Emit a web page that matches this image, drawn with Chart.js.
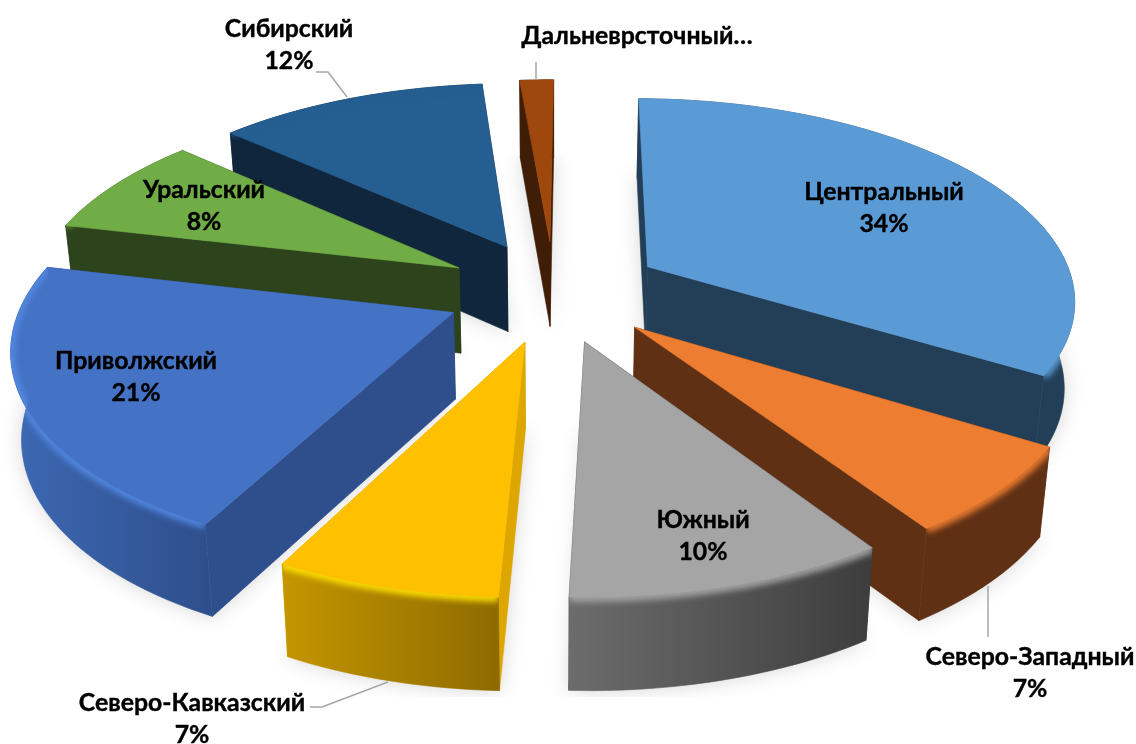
<!DOCTYPE html>
<html>
<head>
<meta charset="utf-8">
<style>
html, body { margin: 0; padding: 0; background: #fff; }
#box { position: relative; width: 1136px; height: 744px; }
</style>
<script src="https://cdn.jsdelivr.net/npm/chart.js@4/dist/chart.umd.js"></script>
</head>
<body>
<div id="box"><canvas id="chart"></canvas></div>
<script>
// data
const categories = ["Центральный", "Северо-Западный", "Южный", "Северо-Кавказский", "Приволжский", "Уральский", "Сибирский", "Дальневрсточный…"];
const values = [33.6, 6.9, 10, 7, 21, 8, 12, 1.5];

// colours for each slice
const topColors = ["#5B9BD5", "#ED7D31", "#A5A5A5", "#FFC000", "#4472C4", "#70AD47", "#255E91", "#9E480E"];
const rimColors = ["#5B9BD5", "#ED7D31", "#A5A5A5", "#FFE000", "#5288E2", "#70AD47", "#255E91", "#9E480E"];
const cutColors = ["#233F57", "#5F3014", "#3D3D3D", "#DDA600", "#2F4F8C", "#2C431B", "#0F263D", "#3F1D06"];
const wallLeft = ["#233F57", "#5F3014", "#6C6C6C", "#C49600", "#3D69B4", "#2C431B", "#0F263D", "#3F1D06"];
const wallRight = ["#233F57", "#5F3014", "#3D3D3D", "#8E6B00", "#2F4F8C", "#2C431B", "#0F263D", "#3F1D06"];

// back to front
const drawOrder = [7, 6, 5, 4, 0, 1, 2, 3];

// label centres (first line), and which ones only show the name
const labelPos = [[884, 192], [1030, 657], [703, 520], [192, 703], [136, 361], [204, 190], [289, 29], [637, 36]];
const nameOnly = [7];
const leaders = [
    [[988, 586], [988, 637]],
    [[310, 707], [322, 707], [388, 682]],
    [[316, 72], [328, 72], [347, 97]],
    [[536, 62], [536, 80]]
];

// tilted view of the pie
const view = { cx: 554, cy: 291, rx: 428, ry: 200, k: 0.15 };

function project(px, py, down) {
    const s = 1 / (1 - view.k * py);
    const d = down ? 86 + 6 * py : 0;
    const f = down ? 0.98 : 1;
    return [view.cx + px * view.rx * s * f, view.cy + py * view.ry * s + d];
}

function sliceGeometry(el) {
    const p = el.getProps(["startAngle", "endAngle", "outerRadius"], true);
    const mid = (p.startAngle + p.endAngle) / 2;
    const e = el.options.offset / p.outerRadius;
    const ox = Math.cos(mid) * e;
    const oy = Math.sin(mid) * e;
    const rim = [];
    const n = Math.max(4, Math.ceil((p.endAngle - p.startAngle) * 40));
    for (let i = 0; i <= n; i++) {
        const a = p.startAngle + (p.endAngle - p.startAngle) * i / n;
        rim.push([ox + Math.cos(a), oy + Math.sin(a)]);
    }
    return { ox, oy, rim };
}

function tracePath(ctx, pts) {
    ctx.beginPath();
    pts.forEach((q, i) => i ? ctx.lineTo(q[0], q[1]) : ctx.moveTo(q[0], q[1]));
    ctx.closePath();
}

function fillPoly(ctx, pts, color) {
    tracePath(ctx, pts);
    ctx.fillStyle = color;
    ctx.fill();
    ctx.strokeStyle = color;
    ctx.lineWidth = 0.6;
    ctx.stroke();
}

function drawSlice(ctx, g, i) {
    const rimTop = g.rim.map(q => project(q[0], q[1], false));
    const rimBot = g.rim.map(q => project(q[0], q[1], true));
    const apexTop = project(g.ox, g.oy, false);
    const apexBot = project(g.ox, g.oy, true);
    const last = rimTop.length - 1;

    // straight cut walls
    fillPoly(ctx, [apexTop, rimTop[0], rimBot[0], apexBot], cutColors[i]);
    fillPoly(ctx, [apexTop, rimTop[last], rimBot[last], apexBot], cutColors[i]);

    // outer wall with a left to right shade
    const xs = rimTop.map(q => q[0]);
    const grad = ctx.createLinearGradient(Math.min(...xs), 0, Math.max(...xs), 0);
    grad.addColorStop(0, wallLeft[i]);
    grad.addColorStop(1, wallRight[i]);
    const wall = rimTop.concat(rimBot.slice().reverse());
    fillPoly(ctx, wall, grad);

    // top face
    const face = [apexTop].concat(rimTop);
    fillPoly(ctx, face, topColors[i]);

    // soft bevel along the rim
    ctx.save();
    tracePath(ctx, wall);
    ctx.clip();
    ctx.filter = "blur(3px)";
    ctx.beginPath();
    rimTop.forEach((q, j) => j ? ctx.lineTo(q[0], q[1]) : ctx.moveTo(q[0], q[1]));
    ctx.strokeStyle = rimColors[i];
    ctx.lineWidth = 9;
    ctx.stroke();
    ctx.restore();
}

const pie3d = {
    id: "pie3d",
    beforeDatasetsDraw(chart) {
        const ctx = chart.ctx;
        const arcs = chart.getDatasetMeta(0).data;
        const geo = arcs.map(sliceGeometry);

        // floor shadow
        ctx.save();
        ctx.beginPath();
        ctx.rect(0, 155, 1136, 542);
        ctx.clip();
        ctx.filter = "blur(10px)";
        ctx.fillStyle = "rgba(0,0,0,0.16)";
        geo.forEach(g => {
            tracePath(ctx, [project(g.ox, g.oy, true)].concat(g.rim.map(q => project(q[0], q[1], true))));
            ctx.fill();
        });
        ctx.restore();

        drawOrder.forEach(i => drawSlice(ctx, geo[i], i));
        return false;
    },
    afterDraw(chart) {
        const ctx = chart.ctx;
        ctx.save();
        ctx.strokeStyle = "#A6A6A6";
        ctx.lineWidth = 1.5;
        leaders.forEach(line => {
            ctx.beginPath();
            line.forEach((q, j) => j ? ctx.lineTo(q[0], q[1]) : ctx.moveTo(q[0], q[1]));
            ctx.stroke();
        });
        ctx.fillStyle = "#000";
        ctx.strokeStyle = "#000";
        ctx.lineWidth = 0.4;
        ctx.font = 'bold 24.8px Lato, "Noto Sans", sans-serif';
        ctx.textAlign = "center";
        ctx.textBaseline = "middle";
        categories.forEach((name, i) => {
            ctx.fillText(name, labelPos[i][0], labelPos[i][1]);
            ctx.strokeText(name, labelPos[i][0], labelPos[i][1]);
            if (!nameOnly.includes(i)) {
                const pct = Math.round(values[i]) + "%";
                ctx.fillText(pct, labelPos[i][0], labelPos[i][1] + 32);
                ctx.strokeText(pct, labelPos[i][0], labelPos[i][1] + 32);
            }
        });
        ctx.restore();
    }
};

new Chart(document.getElementById("chart"), {
    type: "pie",
    data: {
        labels: categories,
        datasets: [{
            data: values,
            backgroundColor: topColors,
            borderWidth: 0,
            offset: 84
        }]
    },
    options: {
        responsive: true,
        maintainAspectRatio: false,
        animation: false,
        rotation: 0.5,
        layout: { padding: 0 },
        plugins: { legend: { display: false }, tooltip: { enabled: false } }
    },
    plugins: [pie3d]
});
</script>
</body>
</html>
